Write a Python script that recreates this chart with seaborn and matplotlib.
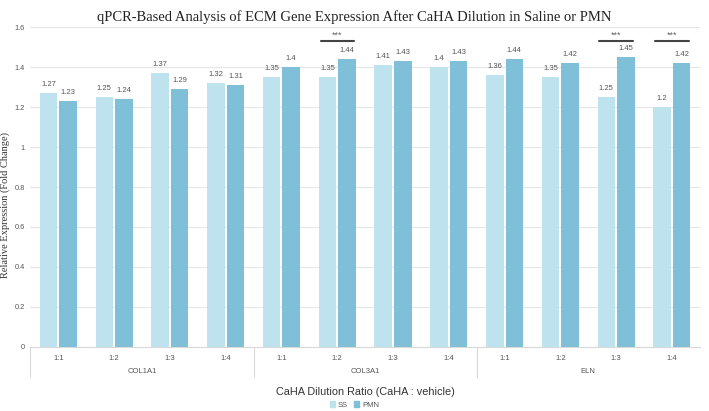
import numpy as np
import pandas as pd
import matplotlib
matplotlib.use('Agg')
import matplotlib.pyplot as plt
import matplotlib.transforms as mtransforms
from matplotlib.patches import Patch
import seaborn as sns

genes = ['COL1A1', 'COL3A1', 'ELN']
ratios = ['1:1', '1:2', '1:3', '1:4']
ss_values = [1.27, 1.25, 1.37, 1.32, 1.35, 1.35, 1.41, 1.40, 1.36, 1.35, 1.25, 1.20]
pmn_values = [1.23, 1.24, 1.29, 1.31, 1.40, 1.44, 1.43, 1.43, 1.44, 1.42, 1.45, 1.42]
significant = [('COL3A1', '1:2'), ('ELN', '1:3'), ('ELN', '1:4')]

ss_color = '#BEE3EE'
pmn_color = '#7FBFD8'

slots = [g + ' ' + r for g in genes for r in ratios]
rows = []
for i, s in enumerate(slots):
	rows.append([s, 'SS', ss_values[i]])
	rows.append([s, 'PMN', pmn_values[i]])
df = pd.DataFrame(rows, columns=['Slot', 'Treatment', 'Value'])

sns.set_style('white')
plt.rcParams['font.family'] = ['Liberation Sans', 'DejaVu Sans']

fig = plt.figure(figsize=(7.09, 4.11), dpi=100)
ax = fig.add_axes([0.043, 0.156, 0.944, 0.778])

sns.barplot(
	data=df, x='Slot', y='Value', hue='Treatment', order=slots,
	hue_order=['SS', 'PMN'], palette=[ss_color, pmn_color],
	width=0.7, gap=0.1, ax=ax, legend=False, errorbar=None,
	saturation=1, linewidth=0,
)

for cont in ax.containers:
	ax.bar_label(cont, fmt='{:g}', padding=4, fontsize=5.5, color='#555555')

ax.set_ylim(0, 1.6)
ax.set_xlim(-0.5, len(slots) - 0.5)
ax.set_yticks(np.arange(0, 1.61, 0.2))
ax.set_yticklabels(['{:g}'.format(round(v, 1)) for v in np.arange(0, 1.61, 0.2)])
ax.yaxis.grid(True, color='#E6E6E6', linewidth=0.8)
ax.set_axisbelow(True)
for side in ['top', 'right', 'left']:
	ax.spines[side].set_visible(False)
ax.spines['bottom'].set_color('#D9D9D9')
ax.spines['bottom'].set_linewidth(0.8)

ax.set_xticks(range(len(slots)))
ax.set_xticklabels([r for g in genes for r in ratios])
ax.tick_params(axis='x', length=0, pad=6, labelsize=5.5, labelcolor='#555555')
ax.tick_params(axis='y', length=0, pad=4, labelsize=5.3, labelcolor='#555555')

ax.set_xlabel('')
ax.set_ylabel('')
fig.text(0.008, 0.5, 'Relative Expression (Fold Change)', family='Liberation Serif', fontsize=7.5,
	rotation=90, ha='center', va='center', color='#333333')

trans = mtransforms.blended_transform_factory(ax.transData, ax.transAxes)
for k, g in enumerate(genes):
	start = k * len(ratios) - 0.5
	ax.plot([start, start], [0, -0.095], transform=trans, color='#D9D9D9', lw=0.8, clip_on=False)
	ax.text(start + len(ratios) / 2, -0.078, g, transform=trans, ha='center', va='center',
		fontsize=5.5, color='#555555')

ax.text(0.5, -0.14, 'CaHA Dilution Ratio (CaHA : vehicle)', transform=ax.transAxes,
	ha='center', va='center', fontsize=7.8, color='#333333')

for g, r in significant:
	i = slots.index(g + ' ' + r)
	ax.plot([i - 0.3, i + 0.3], [1.53, 1.53], color='#444444', lw=1.5, clip_on=False)
	ax.text(i, 1.557, '***', ha='center', va='center', fontsize=6.5, color='#666666')

fig.suptitle('qPCR-Based Analysis of ECM Gene Expression After CaHA Dilution in Saline or PMN',
	family='Liberation Serif', fontsize=10.5, y=0.975, color='#222222')

handles = [Patch(color=ss_color, label='SS'), Patch(color=pmn_color, label='PMN')]
fig.legend(handles=handles, loc='center', bbox_to_anchor=(0.5, 0.015), ncol=2, frameon=False,
	fontsize=5.5, handlelength=0.7, handleheight=0.7, handletextpad=0.4, columnspacing=0.8,
	labelcolor='#555555')

fig.savefig('out.png', dpi=100)
